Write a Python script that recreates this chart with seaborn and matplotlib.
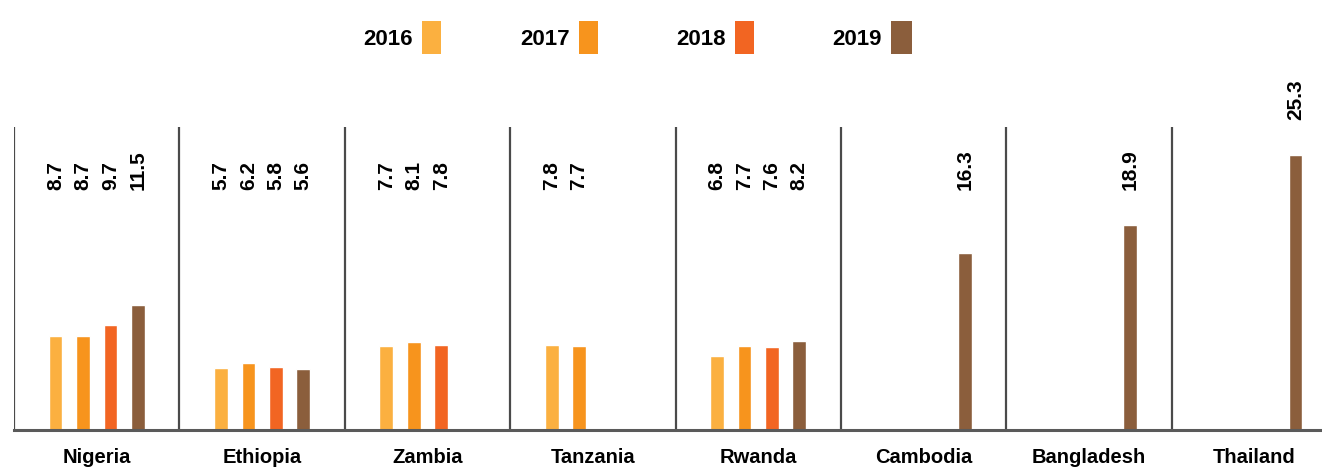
import matplotlib
matplotlib.use("Agg")
import matplotlib.pyplot as plt
from matplotlib import font_manager as fm
from matplotlib.patches import Patch
import seaborn as sns
import pandas as pd

# ---- data ----
countries = ["Nigeria", "Ethiopia", "Zambia", "Tanzania", "Rwanda", "Cambodia", "Bangladesh", "Thailand"]
years = ["2016", "2017", "2018", "2019"]
v2016 = [8.7, 5.7, 7.7, 7.8, 6.8, None, None, None]
v2017 = [8.7, 6.2, 8.1, 7.7, 7.7, None, None, None]
v2018 = [9.7, 5.8, 7.8, None, 7.6, None, None, None]
v2019 = [11.5, 5.6, None, None, 8.2, 16.3, 18.9, 25.3]
colors = ["#FBB040", "#F7941D", "#F26522", "#8B5E3C"]

rows = []
for yr, vals in zip(years, [v2016, v2017, v2018, v2019]):
    for c, v in zip(countries, vals):
        if v is not None:
            rows.append({"country": c, "year": yr, "value": v})
df = pd.DataFrame(rows)

sns.set_theme(style="white")
names = {f.name for f in fm.fontManager.ttflist}
narrow = "Liberation Sans Narrow" in names
if narrow:
    plt.rcParams["font.family"] = ["Liberation Sans Narrow", "DejaVu Sans"]
    fs_val, fs_cat, fs_leg = 17, 17, 17
else:
    plt.rcParams["font.family"] = ["Liberation Sans", "DejaVu Sans"]
    fs_val, fs_cat, fs_leg = 15, 14.5, 16
plt.rcParams["text.color"] = "black"

W, H = 1322, 467
fig = plt.figure(figsize=(W / 100, H / 100), dpi=100)
ax = fig.add_axes([14 / W, 37 / H, 1323 / W, 303 / H])

sns.barplot(data=df, x="country", y="value", hue="year", order=countries,
            hue_order=years, palette=colors, width=0.663, gap=0.5,
            dodge=True, errorbar=None, ax=ax, legend=False, saturation=1)

ax.set_xlim(-0.5, len(countries) - 0.5)
ax.set_ylim(0, 27.9)
ax.set_yticks([])
ax.set_xlabel("")
ax.set_ylabel("")
for s in ["top", "right", "left"]:
    ax.spines[s].set_visible(False)
ax.spines["bottom"].set_color("#5a5a5a")
ax.spines["bottom"].set_linewidth(2.2)
ax.spines["bottom"].set_zorder(5)

for i in range(len(countries)):
    ax.axvline(i - 0.5, color="#4a4a4a", lw=1.6, zorder=4)

ax.tick_params(axis="x", length=0, pad=13)
for lab in ax.get_xticklabels():
    lab.set_fontsize(fs_cat)
    lab.set_fontweight("bold")
    lab.set_color("black")

# value labels
for cont in ax.containers:
    for p in cont.patches:
        h = p.get_height()
        if h is None or h != h or h == 0:
            continue
        ypos = max(22.1, h + 3.2)
        ax.text(p.get_x() + p.get_width() / 2, ypos, f"{h:.1f}", rotation=90,
                ha="center", va="bottom", fontsize=fs_val, fontweight="bold",
                color="black", clip_on=False)

# legend: text followed by tall swatch
leg_right = [441, 598, 754, 912]
leg_w = [19, 19, 19, 21]
fs_px = fs_leg * 100 / 72
for yr, col, xr, wpx in zip(years, colors, leg_right, leg_w):
    fig.legend(handles=[Patch(facecolor=col, edgecolor="none")], labels=[yr],
               loc="center right", bbox_to_anchor=(xr / W, 1 - 37.5 / H),
               markerfirst=False, frameon=False, borderpad=0, borderaxespad=0,
               handlelength=wpx / fs_px, handleheight=43 / fs_px,
               handletextpad=9 / fs_px,
               prop={"size": fs_leg, "weight": "bold"}, labelcolor="black")

fig.savefig("out.png", dpi=100)
